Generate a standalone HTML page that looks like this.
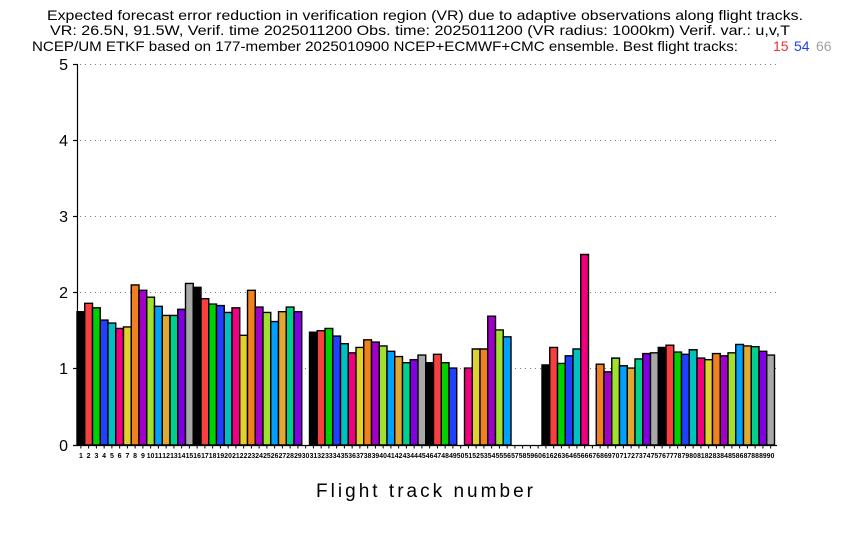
<!DOCTYPE html>
<html><head><meta charset="utf-8"><style>
html,body{margin:0;padding:0;background:#fff;}
svg{display:block;font-family:"Liberation Sans",sans-serif;}
.t{font-size:14px;fill:#000;}
.xl text{font-size:7px;font-weight:bold;text-anchor:middle;}
</style></head><body>
<svg width="850" height="540" viewBox="0 0 850 540">
<text class="t" x="47" y="20" textLength="756" lengthAdjust="spacingAndGlyphs">Expected forecast error reduction in verification region (VR) due to adaptive observations along flight tracks.</text>
<text class="t" x="50" y="35" textLength="740" lengthAdjust="spacingAndGlyphs">VR: 26.5N, 91.5W, Verif. time 2025011200 Obs. time: 2025011200 (VR radius: 1000km)  Verif. var.: u,v,T</text>
<text class="t" x="32" y="51" textLength="706" lengthAdjust="spacingAndGlyphs">NCEP/UM ETKF based on 177-member 2025010900 NCEP+ECMWF+CMC ensemble. Best flight tracks:</text>
<text class="t" x="773" y="51" fill="#f03030" style="fill:#f03030">15</text>
<text class="t" x="794" y="51" style="fill:#2040f0">54</text>
<text class="t" x="816" y="51" style="fill:#a0a0a0">66</text>
<g stroke="#777" stroke-width="1" stroke-dasharray="1 4">
<line x1="80" y1="64.5" x2="776" y2="64.5"/><line x1="80" y1="140.5" x2="776" y2="140.5"/><line x1="80" y1="216.5" x2="776" y2="216.5"/><line x1="80" y1="292.5" x2="776" y2="292.5"/><line x1="80" y1="368.5" x2="776" y2="368.5"/>
</g>
<g font-size="16" text-anchor="end">
<text x="68" y="70">5</text><text x="68" y="146">4</text><text x="68" y="222">3</text><text x="68" y="298">2</text><text x="68" y="374">1</text><text x="68" y="451">0</text>
</g>
<g stroke="#000" stroke-width="1.2">
<line x1="77.5" y1="64" x2="77.5" y2="446"/><line x1="73" y1="64.5" x2="77.5" y2="64.5"/><line x1="73" y1="140.5" x2="77.5" y2="140.5"/><line x1="73" y1="216.5" x2="77.5" y2="216.5"/><line x1="73" y1="292.5" x2="77.5" y2="292.5"/><line x1="73" y1="368.5" x2="77.5" y2="368.5"/><line x1="73" y1="445.5" x2="777" y2="445.5"/>
<line x1="77" y1="447" x2="777" y2="447" stroke-dasharray="1 6.75" stroke-dashoffset="-3.4" stroke-width="3"/>
</g>
<g transform="translate(77,445) scale(7.75,-76.2)" stroke="#000" stroke-width="1.4">
<rect vector-effect="non-scaling-stroke" x="0" y="0" width="1" height="1.75" fill="#000"/>
<rect vector-effect="non-scaling-stroke" x="1" y="0" width="1" height="1.86" fill="#f84040"/>
<rect vector-effect="non-scaling-stroke" x="2" y="0" width="1" height="1.80" fill="#00d000"/>
<rect vector-effect="non-scaling-stroke" x="3" y="0" width="1" height="1.64" fill="#2040ff"/>
<rect vector-effect="non-scaling-stroke" x="4" y="0" width="1" height="1.60" fill="#00c0c0"/>
<rect vector-effect="non-scaling-stroke" x="5" y="0" width="1" height="1.53" fill="#f00080"/>
<rect vector-effect="non-scaling-stroke" x="6" y="0" width="1" height="1.55" fill="#e0d030"/>
<rect vector-effect="non-scaling-stroke" x="7" y="0" width="1" height="2.10" fill="#f08020"/>
<rect vector-effect="non-scaling-stroke" x="8" y="0" width="1" height="2.03" fill="#a000c8"/>
<rect vector-effect="non-scaling-stroke" x="9" y="0" width="1" height="1.94" fill="#a0e030"/>
<rect vector-effect="non-scaling-stroke" x="10" y="0" width="1" height="1.82" fill="#00a0ff"/>
<rect vector-effect="non-scaling-stroke" x="11" y="0" width="1" height="1.70" fill="#e0a830"/>
<rect vector-effect="non-scaling-stroke" x="12" y="0" width="1" height="1.70" fill="#00d08c"/>
<rect vector-effect="non-scaling-stroke" x="13" y="0" width="1" height="1.78" fill="#8000e0"/>
<rect vector-effect="non-scaling-stroke" x="14" y="0" width="1" height="2.12" fill="#a8a8a8"/>
<rect vector-effect="non-scaling-stroke" x="15" y="0" width="1" height="2.07" fill="#000"/>
<rect vector-effect="non-scaling-stroke" x="16" y="0" width="1" height="1.92" fill="#f84040"/>
<rect vector-effect="non-scaling-stroke" x="17" y="0" width="1" height="1.85" fill="#00d000"/>
<rect vector-effect="non-scaling-stroke" x="18" y="0" width="1" height="1.83" fill="#2040ff"/>
<rect vector-effect="non-scaling-stroke" x="19" y="0" width="1" height="1.74" fill="#00c0c0"/>
<rect vector-effect="non-scaling-stroke" x="20" y="0" width="1" height="1.80" fill="#f00080"/>
<rect vector-effect="non-scaling-stroke" x="21" y="0" width="1" height="1.44" fill="#e0d030"/>
<rect vector-effect="non-scaling-stroke" x="22" y="0" width="1" height="2.03" fill="#f08020"/>
<rect vector-effect="non-scaling-stroke" x="23" y="0" width="1" height="1.81" fill="#a000c8"/>
<rect vector-effect="non-scaling-stroke" x="24" y="0" width="1" height="1.74" fill="#a0e030"/>
<rect vector-effect="non-scaling-stroke" x="25" y="0" width="1" height="1.62" fill="#00a0ff"/>
<rect vector-effect="non-scaling-stroke" x="26" y="0" width="1" height="1.75" fill="#e0a830"/>
<rect vector-effect="non-scaling-stroke" x="27" y="0" width="1" height="1.81" fill="#00d08c"/>
<rect vector-effect="non-scaling-stroke" x="28" y="0" width="1" height="1.75" fill="#8000e0"/>
<rect vector-effect="non-scaling-stroke" x="30" y="0" width="1" height="1.48" fill="#000"/>
<rect vector-effect="non-scaling-stroke" x="31" y="0" width="1" height="1.50" fill="#f84040"/>
<rect vector-effect="non-scaling-stroke" x="32" y="0" width="1" height="1.53" fill="#00d000"/>
<rect vector-effect="non-scaling-stroke" x="33" y="0" width="1" height="1.43" fill="#2040ff"/>
<rect vector-effect="non-scaling-stroke" x="34" y="0" width="1" height="1.33" fill="#00c0c0"/>
<rect vector-effect="non-scaling-stroke" x="35" y="0" width="1" height="1.21" fill="#f00080"/>
<rect vector-effect="non-scaling-stroke" x="36" y="0" width="1" height="1.28" fill="#e0d030"/>
<rect vector-effect="non-scaling-stroke" x="37" y="0" width="1" height="1.38" fill="#f08020"/>
<rect vector-effect="non-scaling-stroke" x="38" y="0" width="1" height="1.35" fill="#a000c8"/>
<rect vector-effect="non-scaling-stroke" x="39" y="0" width="1" height="1.30" fill="#a0e030"/>
<rect vector-effect="non-scaling-stroke" x="40" y="0" width="1" height="1.23" fill="#00a0ff"/>
<rect vector-effect="non-scaling-stroke" x="41" y="0" width="1" height="1.16" fill="#e0a830"/>
<rect vector-effect="non-scaling-stroke" x="42" y="0" width="1" height="1.08" fill="#00d08c"/>
<rect vector-effect="non-scaling-stroke" x="43" y="0" width="1" height="1.12" fill="#8000e0"/>
<rect vector-effect="non-scaling-stroke" x="44" y="0" width="1" height="1.18" fill="#a8a8a8"/>
<rect vector-effect="non-scaling-stroke" x="45" y="0" width="1" height="1.08" fill="#000"/>
<rect vector-effect="non-scaling-stroke" x="46" y="0" width="1" height="1.19" fill="#f84040"/>
<rect vector-effect="non-scaling-stroke" x="47" y="0" width="1" height="1.08" fill="#00d000"/>
<rect vector-effect="non-scaling-stroke" x="48" y="0" width="1" height="1.01" fill="#2040ff"/>
<rect vector-effect="non-scaling-stroke" x="50" y="0" width="1" height="1.01" fill="#f00080"/>
<rect vector-effect="non-scaling-stroke" x="51" y="0" width="1" height="1.26" fill="#e0d030"/>
<rect vector-effect="non-scaling-stroke" x="52" y="0" width="1" height="1.26" fill="#f08020"/>
<rect vector-effect="non-scaling-stroke" x="53" y="0" width="1" height="1.69" fill="#a000c8"/>
<rect vector-effect="non-scaling-stroke" x="54" y="0" width="1" height="1.51" fill="#a0e030"/>
<rect vector-effect="non-scaling-stroke" x="55" y="0" width="1" height="1.42" fill="#00a0ff"/>
<rect vector-effect="non-scaling-stroke" x="60" y="0" width="1" height="1.05" fill="#000"/>
<rect vector-effect="non-scaling-stroke" x="61" y="0" width="1" height="1.28" fill="#f84040"/>
<rect vector-effect="non-scaling-stroke" x="62" y="0" width="1" height="1.07" fill="#00d000"/>
<rect vector-effect="non-scaling-stroke" x="63" y="0" width="1" height="1.17" fill="#2040ff"/>
<rect vector-effect="non-scaling-stroke" x="64" y="0" width="1" height="1.26" fill="#00c0c0"/>
<rect vector-effect="non-scaling-stroke" x="65" y="0" width="1" height="2.50" fill="#f00080"/>
<rect vector-effect="non-scaling-stroke" x="67" y="0" width="1" height="1.06" fill="#f08020"/>
<rect vector-effect="non-scaling-stroke" x="68" y="0" width="1" height="0.96" fill="#a000c8"/>
<rect vector-effect="non-scaling-stroke" x="69" y="0" width="1" height="1.14" fill="#a0e030"/>
<rect vector-effect="non-scaling-stroke" x="70" y="0" width="1" height="1.04" fill="#00a0ff"/>
<rect vector-effect="non-scaling-stroke" x="71" y="0" width="1" height="1.01" fill="#e0a830"/>
<rect vector-effect="non-scaling-stroke" x="72" y="0" width="1" height="1.13" fill="#00d08c"/>
<rect vector-effect="non-scaling-stroke" x="73" y="0" width="1" height="1.20" fill="#8000e0"/>
<rect vector-effect="non-scaling-stroke" x="74" y="0" width="1" height="1.21" fill="#a8a8a8"/>
<rect vector-effect="non-scaling-stroke" x="75" y="0" width="1" height="1.28" fill="#000"/>
<rect vector-effect="non-scaling-stroke" x="76" y="0" width="1" height="1.31" fill="#f84040"/>
<rect vector-effect="non-scaling-stroke" x="77" y="0" width="1" height="1.22" fill="#00d000"/>
<rect vector-effect="non-scaling-stroke" x="78" y="0" width="1" height="1.19" fill="#2040ff"/>
<rect vector-effect="non-scaling-stroke" x="79" y="0" width="1" height="1.25" fill="#00c0c0"/>
<rect vector-effect="non-scaling-stroke" x="80" y="0" width="1" height="1.14" fill="#f00080"/>
<rect vector-effect="non-scaling-stroke" x="81" y="0" width="1" height="1.12" fill="#e0d030"/>
<rect vector-effect="non-scaling-stroke" x="82" y="0" width="1" height="1.20" fill="#f08020"/>
<rect vector-effect="non-scaling-stroke" x="83" y="0" width="1" height="1.17" fill="#a000c8"/>
<rect vector-effect="non-scaling-stroke" x="84" y="0" width="1" height="1.21" fill="#a0e030"/>
<rect vector-effect="non-scaling-stroke" x="85" y="0" width="1" height="1.32" fill="#00a0ff"/>
<rect vector-effect="non-scaling-stroke" x="86" y="0" width="1" height="1.30" fill="#e0a830"/>
<rect vector-effect="non-scaling-stroke" x="87" y="0" width="1" height="1.29" fill="#00d08c"/>
<rect vector-effect="non-scaling-stroke" x="88" y="0" width="1" height="1.23" fill="#8000e0"/>
<rect vector-effect="non-scaling-stroke" x="89" y="0" width="1" height="1.18" fill="#a8a8a8"/>
</g>
<g class="xl">
<text x="80.9" y="458">1</text><text x="88.6" y="458">2</text><text x="96.4" y="458">3</text><text x="104.1" y="458">4</text><text x="111.9" y="458">5</text><text x="119.6" y="458">6</text><text x="127.4" y="458">7</text><text x="135.1" y="458">8</text><text x="142.9" y="458">9</text>
<text x="150.6" y="458" textLength="7.6" lengthAdjust="spacingAndGlyphs">10</text><text x="158.4" y="458" textLength="7.6" lengthAdjust="spacingAndGlyphs">11</text><text x="166.1" y="458" textLength="7.6" lengthAdjust="spacingAndGlyphs">12</text><text x="173.9" y="458" textLength="7.6" lengthAdjust="spacingAndGlyphs">13</text><text x="181.6" y="458" textLength="7.6" lengthAdjust="spacingAndGlyphs">14</text><text x="189.4" y="458" textLength="7.6" lengthAdjust="spacingAndGlyphs">15</text><text x="197.1" y="458" textLength="7.6" lengthAdjust="spacingAndGlyphs">16</text><text x="204.9" y="458" textLength="7.6" lengthAdjust="spacingAndGlyphs">17</text><text x="212.6" y="458" textLength="7.6" lengthAdjust="spacingAndGlyphs">18</text><text x="220.4" y="458" textLength="7.6" lengthAdjust="spacingAndGlyphs">19</text>
<text x="228.1" y="458" textLength="7.6" lengthAdjust="spacingAndGlyphs">20</text><text x="235.9" y="458" textLength="7.6" lengthAdjust="spacingAndGlyphs">21</text><text x="243.6" y="458" textLength="7.6" lengthAdjust="spacingAndGlyphs">22</text><text x="251.4" y="458" textLength="7.6" lengthAdjust="spacingAndGlyphs">23</text><text x="259.1" y="458" textLength="7.6" lengthAdjust="spacingAndGlyphs">24</text><text x="266.9" y="458" textLength="7.6" lengthAdjust="spacingAndGlyphs">25</text><text x="274.6" y="458" textLength="7.6" lengthAdjust="spacingAndGlyphs">26</text><text x="282.4" y="458" textLength="7.6" lengthAdjust="spacingAndGlyphs">27</text><text x="290.1" y="458" textLength="7.6" lengthAdjust="spacingAndGlyphs">28</text><text x="297.9" y="458" textLength="7.6" lengthAdjust="spacingAndGlyphs">29</text>
<text x="305.6" y="458" textLength="7.6" lengthAdjust="spacingAndGlyphs">30</text><text x="313.4" y="458" textLength="7.6" lengthAdjust="spacingAndGlyphs">31</text><text x="321.1" y="458" textLength="7.6" lengthAdjust="spacingAndGlyphs">32</text><text x="328.9" y="458" textLength="7.6" lengthAdjust="spacingAndGlyphs">33</text><text x="336.6" y="458" textLength="7.6" lengthAdjust="spacingAndGlyphs">34</text><text x="344.4" y="458" textLength="7.6" lengthAdjust="spacingAndGlyphs">35</text><text x="352.1" y="458" textLength="7.6" lengthAdjust="spacingAndGlyphs">36</text><text x="359.9" y="458" textLength="7.6" lengthAdjust="spacingAndGlyphs">37</text><text x="367.6" y="458" textLength="7.6" lengthAdjust="spacingAndGlyphs">38</text><text x="375.4" y="458" textLength="7.6" lengthAdjust="spacingAndGlyphs">39</text>
<text x="383.1" y="458" textLength="7.6" lengthAdjust="spacingAndGlyphs">40</text><text x="390.9" y="458" textLength="7.6" lengthAdjust="spacingAndGlyphs">41</text><text x="398.6" y="458" textLength="7.6" lengthAdjust="spacingAndGlyphs">42</text><text x="406.4" y="458" textLength="7.6" lengthAdjust="spacingAndGlyphs">43</text><text x="414.1" y="458" textLength="7.6" lengthAdjust="spacingAndGlyphs">44</text><text x="421.9" y="458" textLength="7.6" lengthAdjust="spacingAndGlyphs">45</text><text x="429.6" y="458" textLength="7.6" lengthAdjust="spacingAndGlyphs">46</text><text x="437.4" y="458" textLength="7.6" lengthAdjust="spacingAndGlyphs">47</text><text x="445.1" y="458" textLength="7.6" lengthAdjust="spacingAndGlyphs">48</text><text x="452.9" y="458" textLength="7.6" lengthAdjust="spacingAndGlyphs">49</text>
<text x="460.6" y="458" textLength="7.6" lengthAdjust="spacingAndGlyphs">50</text><text x="468.4" y="458" textLength="7.6" lengthAdjust="spacingAndGlyphs">51</text><text x="476.1" y="458" textLength="7.6" lengthAdjust="spacingAndGlyphs">52</text><text x="483.9" y="458" textLength="7.6" lengthAdjust="spacingAndGlyphs">53</text><text x="491.6" y="458" textLength="7.6" lengthAdjust="spacingAndGlyphs">54</text><text x="499.4" y="458" textLength="7.6" lengthAdjust="spacingAndGlyphs">55</text><text x="507.1" y="458" textLength="7.6" lengthAdjust="spacingAndGlyphs">56</text><text x="514.9" y="458" textLength="7.6" lengthAdjust="spacingAndGlyphs">57</text><text x="522.6" y="458" textLength="7.6" lengthAdjust="spacingAndGlyphs">58</text><text x="530.4" y="458" textLength="7.6" lengthAdjust="spacingAndGlyphs">59</text>
<text x="538.1" y="458" textLength="7.6" lengthAdjust="spacingAndGlyphs">60</text><text x="545.9" y="458" textLength="7.6" lengthAdjust="spacingAndGlyphs">61</text><text x="553.6" y="458" textLength="7.6" lengthAdjust="spacingAndGlyphs">62</text><text x="561.4" y="458" textLength="7.6" lengthAdjust="spacingAndGlyphs">63</text><text x="569.1" y="458" textLength="7.6" lengthAdjust="spacingAndGlyphs">64</text><text x="576.9" y="458" textLength="7.6" lengthAdjust="spacingAndGlyphs">65</text><text x="584.6" y="458" textLength="7.6" lengthAdjust="spacingAndGlyphs">66</text><text x="592.4" y="458" textLength="7.6" lengthAdjust="spacingAndGlyphs">67</text><text x="600.1" y="458" textLength="7.6" lengthAdjust="spacingAndGlyphs">68</text><text x="607.9" y="458" textLength="7.6" lengthAdjust="spacingAndGlyphs">69</text>
<text x="615.6" y="458" textLength="7.6" lengthAdjust="spacingAndGlyphs">70</text><text x="623.4" y="458" textLength="7.6" lengthAdjust="spacingAndGlyphs">71</text><text x="631.1" y="458" textLength="7.6" lengthAdjust="spacingAndGlyphs">72</text><text x="638.9" y="458" textLength="7.6" lengthAdjust="spacingAndGlyphs">73</text><text x="646.6" y="458" textLength="7.6" lengthAdjust="spacingAndGlyphs">74</text><text x="654.4" y="458" textLength="7.6" lengthAdjust="spacingAndGlyphs">75</text><text x="662.1" y="458" textLength="7.6" lengthAdjust="spacingAndGlyphs">76</text><text x="669.9" y="458" textLength="7.6" lengthAdjust="spacingAndGlyphs">77</text><text x="677.6" y="458" textLength="7.6" lengthAdjust="spacingAndGlyphs">78</text><text x="685.4" y="458" textLength="7.6" lengthAdjust="spacingAndGlyphs">79</text>
<text x="693.1" y="458" textLength="7.6" lengthAdjust="spacingAndGlyphs">80</text><text x="700.9" y="458" textLength="7.6" lengthAdjust="spacingAndGlyphs">81</text><text x="708.6" y="458" textLength="7.6" lengthAdjust="spacingAndGlyphs">82</text><text x="716.4" y="458" textLength="7.6" lengthAdjust="spacingAndGlyphs">83</text><text x="724.1" y="458" textLength="7.6" lengthAdjust="spacingAndGlyphs">84</text><text x="731.9" y="458" textLength="7.6" lengthAdjust="spacingAndGlyphs">85</text><text x="739.6" y="458" textLength="7.6" lengthAdjust="spacingAndGlyphs">86</text><text x="747.4" y="458" textLength="7.6" lengthAdjust="spacingAndGlyphs">87</text><text x="755.1" y="458" textLength="7.6" lengthAdjust="spacingAndGlyphs">88</text><text x="762.9" y="458" textLength="7.6" lengthAdjust="spacingAndGlyphs">89</text>
<text x="770.6" y="458" textLength="7.6" lengthAdjust="spacingAndGlyphs">90</text>
</g>
<text x="316" y="497" font-size="19" textLength="217" lengthAdjust="spacing">Flight track number</text>
</svg>
</body></html>
